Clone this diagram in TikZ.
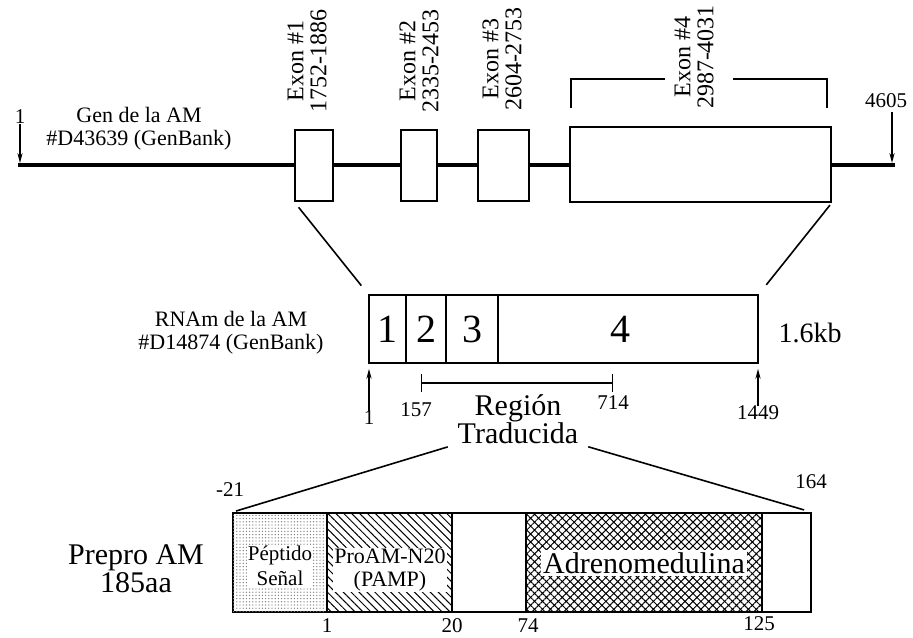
\documentclass[tikz,border=0pt]{standalone}
\usepackage{fontspec}
\setmainfont{Liberation Serif}
\usetikzlibrary{arrows.meta,fit,patterns.meta}

\begin{document}
\begin{tikzpicture}[x=0.5pt,y=-0.5pt,
    box/.style={draw,fill=white,line width=0.8pt,inner sep=0pt},
    tip/.style={-{Stealth[length=5pt,width=2.6pt]},line width=0.7pt},
    lab/.style={font=\fontsize{11}{11.5}\selectfont,align=center,inner sep=0pt},
    big/.style={font=\fontsize{15}{14}\selectfont,align=center,inner sep=0pt},
    num/.style={font=\fontsize{10.5}{11}\selectfont,inner sep=0pt},
    digit/.style={font=\fontsize{20}{20}\selectfont,inner sep=0pt},
    exlab/.style={font=\fontsize{12}{11.5}\selectfont,align=center,inner sep=0pt,rotate=90}]
  \useasboundingbox (0,0) rectangle (913,637);

  % gen
  \coordinate (g0) at (18,165);
  \coordinate (g1) at (895,165);
  \draw[line width=2pt] (g0) -- (g1);
  \node[box,fit={(295,130) (333,201)}] (ex1) {};
  \node[box,fit={(401,130) (437,201)}] (ex2) {};
  \node[box,fit={(478,130) (529,201)}] (ex3) {};
  \node[box,fit={(570,127) (831,202)}] (ex4) {};
  \node[lab] (gen) at (139,129) {Gen de la AM\\\#D43639 (GenBank)};
  \node[exlab] (l1) at (307,61) {Exon \#1\\1752-1886};
  \node[exlab] (l2) at (419,61) {Exon \#2\\2335-2453};
  \node[exlab] (l3) at (502,59) {Exon \#3\\2604-2753};
  \node[exlab] (l4) at (694,57) {Exon \#4\\2987-4031};
  \draw[line width=0.7pt] (571,108) |- (665,79);
  \draw[line width=0.7pt] (733,79) -| (827,108);
  \node[num] (n1) at (20,117) {1};
  \draw[tip,shorten >=1pt] (n1.south) -- (n1.south |- g0);
  \node[num] (n4605) at (886,101) {4605};
  \coordinate (a4605) at (892,112);
  \draw[tip,shorten >=1pt] (a4605) -- (a4605 |- g1);

  % RNAm
  \node[box,fit={(369,295) (406,363)}] (r1) {};
  \node[box,fit={(406,295) (446,363)}] (r2) {};
  \node[box,fit={(446,295) (498,363)}] (r3) {};
  \node[box,fit={(498,295) (758,363)}] (r4) {};
  \node[digit] (d1) at (r1) {1};
  \node[digit] (d2) at (r2) {2};
  \node[digit] (d3) at (r3) {3};
  \node[digit] (d4) at ([xshift=-4pt]r4.center) {4};
  \node[lab] (rna) at (231,333) {RNAm de la AM\\\#D14874 (GenBank)};
  \node[font=\fontsize{14}{14}\selectfont,inner sep=0pt] (kb) at (810,333) {1.6kb};
  \draw[line width=0.8pt,shorten <=3.5pt,shorten >=5.5pt] (ex1.south west) -- (r1.north west);
  \draw[line width=0.8pt,shorten <=1.5pt,shorten >=6pt] (ex4.south east) -- (r4.north east);
  \node[num] (b1) at (369,418) {1};
  \draw[tip,shorten >=2.5pt] (b1.north) -- (b1.north |- r1.south);
  \node[num] (b1449) at (758,413) {1449};
  \draw[tip,shorten >=2.5pt] (b1449.north) -- (b1449.north |- r4.south);
  \coordinate (s157) at (421,383);
  \coordinate (s714) at (613,383);
  \draw[{Bar[width=9pt]}-{Bar[width=9pt]},line width=0.7pt] (s157) -- (s714);
  \node[num] (t157) at (416,410) {157};
  \node[num] (t714) at (613,403) {714};
  \node[big] (trad) at (518,419) {Región\\Traducida};

  % prepro
  \node[box,fit={(233,513) (327,612)},postaction={pattern={Dots[distance=1.6pt,radius=0.35pt]},pattern color=gray}] (pep) {};
  \node[box,fit={(327,513) (452,612)},postaction={pattern={Lines[angle=-45,distance=2.8pt,line width=0.5pt]}}] (pamp) {};
  \node[box,fit={(452,513) (526,612)}] (mid) {};
  \node[box,fit={(526,513) (762,612)},postaction={pattern={Hatch[angle=45,distance=2.8pt,line width=0.5pt]}}] (adm) {};
  \node[box,fit={(762,513) (811,612)}] (cterm) {};
  \node[lab,fill=white,inner sep=0.5pt,font=\fontsize{10.5}{12.5}\selectfont] (peplab) at (280,566) {Péptido\\Señal};
  \node[lab,fill=white,inner sep=0.5pt] (pamplab) at (390,570) {ProAM-N20\\(PAMP)};
  \node[big,fill=white,inner sep=1pt] (admlab) at (644,563) {Adrenomedulina};
  \node[big] (pre) at (136,569) {Prepro AM\\185aa};
  \draw[line width=0.8pt,shorten <=5pt,shorten >=2pt] (trad.south west) -- (pep.north west);
  \draw[line width=0.8pt,shorten <=5pt,shorten >=4pt] (trad.south east) -- (cterm.north east);
  \node[num] (m21) at (230,490) {-21};
  \node[num] (m164) at (811,482) {164};
  \node[num] (m1) at (327,626) {1};
  \node[num] (m20) at (452,626) {20};
  \node[num] (m74) at (528,626) {74};
  \node[num] (m125) at (759,624) {125};
\end{tikzpicture}
\end{document}
